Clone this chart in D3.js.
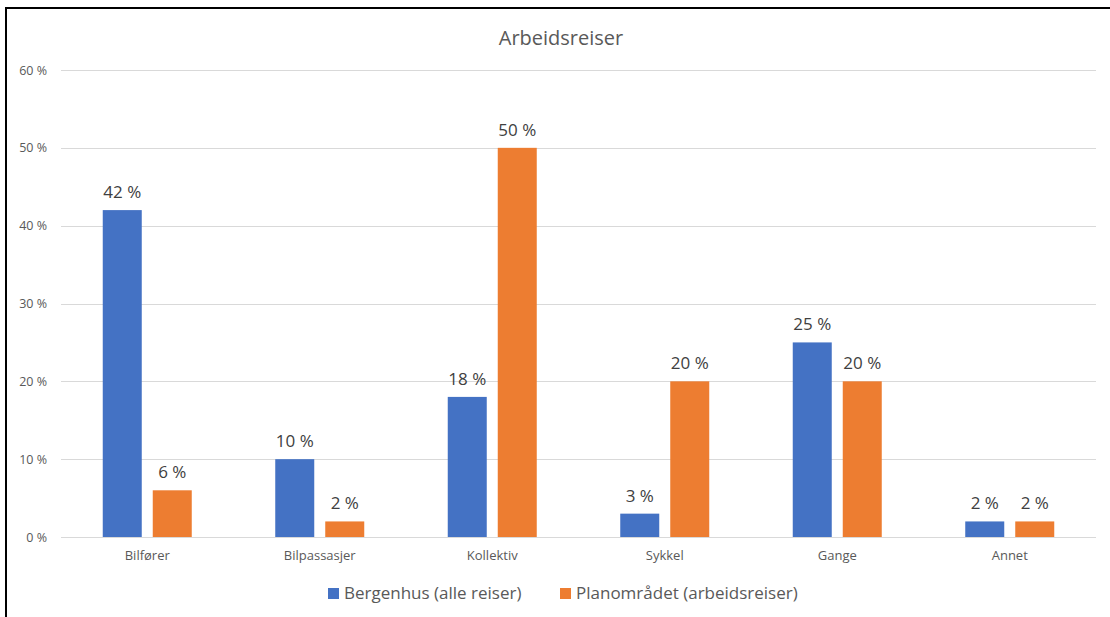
<!DOCTYPE html>
<html>
<head>
<meta charset="utf-8">
<script src="https://cdn.jsdelivr.net/npm/d3@7"></script>
<style>
  body { margin: 0; background: #fff; }
  svg { display: block; font-family: "Open Sans", sans-serif; }
</style>
</head>
<body>
<div id="chart"></div>
<script>
const categories = ["Bilfører", "Bilpassasjer", "Kollektiv", "Sykkel", "Gange", "Annet"];
const seriesNames = ["Bergenhus (alle reiser)", "Planområdet (arbeidsreiser)"];
const bergenhus = [42, 10, 18, 3, 25, 2];
const planomradet = [6, 2, 50, 20, 20, 2];
const yTicks = [0, 10, 20, 30, 40, 50, 60];
const colors = ["#4472c4", "#ed7d31"];

const width = 1110, height = 617;
const margin = { left: 61, right: 14 };

const svg = d3.select("#chart")
    .append("svg")
    .attr("width", width)
    .attr("height", height);

svg.append("rect").attr("width", width).attr("height", height).attr("fill", "#fff");

// Border (only left and top visible in the crop)
svg.append("line").attr("x1", 6).attr("x2", 6).attr("y1", 7).attr("y2", height)
    .attr("stroke", "#000").attr("stroke-width", 2);
svg.append("line").attr("x1", 5).attr("x2", width).attr("y1", 8).attr("y2", 8)
    .attr("stroke", "#000").attr("stroke-width", 2);

const x = d3.scaleBand()
    .domain(categories)
    .range([margin.left, width - margin.right]);

const y = d3.scaleLinear()
    .domain([0, 60])
    .range([537, 70]);

const xSub = d3.scaleBand()
    .domain([0, 1])
    .range([0, x.bandwidth()])
    .paddingInner(0.22)
    .paddingOuter(0.835);

// Gridlines
svg.append("g")
    .selectAll("line")
    .data(yTicks)
    .enter().append("line")
    .attr("x1", margin.left)
    .attr("x2", width - margin.right)
    .attr("y1", d => Math.round(y(d)) + 0.5)
    .attr("y2", d => Math.round(y(d)) + 0.5)
    .attr("stroke", "#d9d9d9")
    .attr("stroke-width", 1);

// Y axis labels
const yAxis = d3.axisLeft(y).tickValues(yTicks).tickSize(0).tickPadding(14).tickFormat(d => d + " %");
svg.append("g")
    .attr("transform", `translate(${margin.left},0)`)
    .call(yAxis)
    .call(g => g.select(".domain").remove())
    .selectAll("text")
    .attr("font-family", "'Open Sans', sans-serif")
    .attr("font-size", "12.5px")
    .attr("fill", "#595959");

// X axis labels
const xAxis = d3.axisBottom(x).tickSize(0).tickPadding(14);
svg.append("g")
    .attr("transform", `translate(0,${y(0)})`)
    .call(xAxis)
    .call(g => g.select(".domain").remove())
    .selectAll("text")
    .attr("font-family", "'Open Sans', sans-serif")
    .attr("font-size", "13px")
    .attr("fill", "#595959");

// Bars
const series = [bergenhus, planomradet];
series.forEach((vals, si) => {
    const g = svg.append("g");
    g.selectAll("rect")
        .data(vals)
        .enter().append("rect")
        .attr("x", (d, i) => x(categories[i]) + xSub(si))
        .attr("y", d => y(d))
        .attr("width", xSub.bandwidth())
        .attr("height", d => y(0) - y(d))
        .attr("fill", colors[si]);
    g.selectAll("text")
        .data(vals)
        .enter().append("text")
        .attr("x", (d, i) => x(categories[i]) + xSub(si) + xSub.bandwidth() / 2)
        .attr("y", d => y(d) - 12)
        .attr("text-anchor", "middle")
        .attr("font-size", "17px")
        .attr("fill", "#404040")
        .text(d => d + " %");
});

// Title
svg.append("text")
    .attr("x", 561)
    .attr("y", 45)
    .attr("text-anchor", "middle")
    .attr("font-size", "20px")
    .attr("fill", "#595959")
    .text("Arbeidsreiser");

// Legend
const legendX = [328, 560];
seriesNames.forEach((name, i) => {
    const lg = svg.append("g").attr("transform", `translate(${legendX[i]},599)`);
    lg.append("rect").attr("x", 0).attr("y", -11).attr("width", 11).attr("height", 11).attr("fill", colors[i]);
    lg.append("text").attr("x", 16).attr("y", 0)
        .attr("font-size", "17px")
        .attr("fill", "#595959")
        .text(name);
});
</script>
</body>
</html>
